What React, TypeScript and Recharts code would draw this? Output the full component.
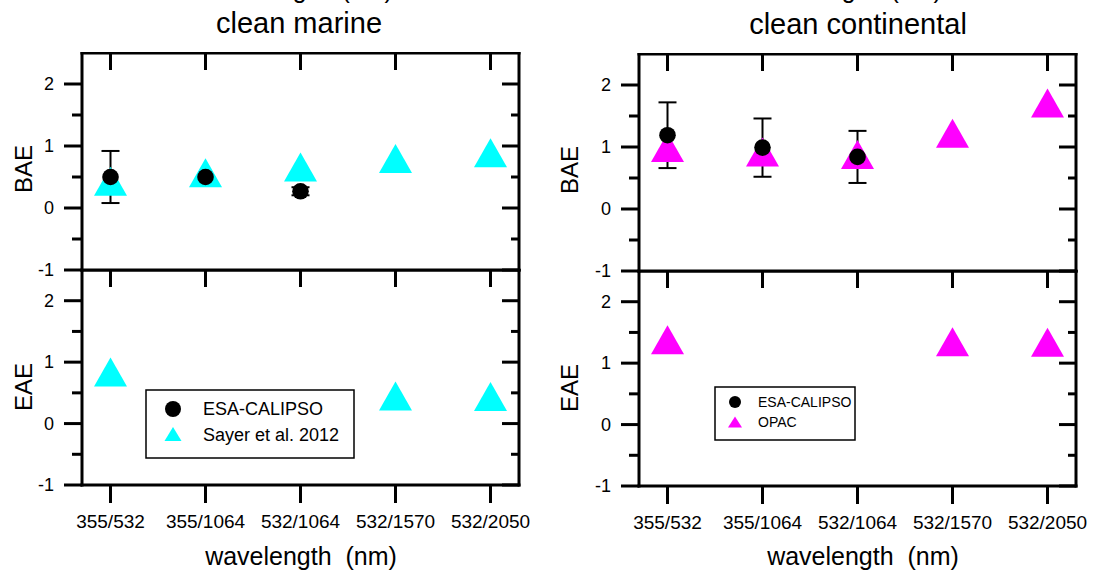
import React from 'react';
import { ScatterChart, Scatter, XAxis, YAxis, ErrorBar } from 'recharts';

const FONT = '"Liberation Sans", Arial, Helvetica, sans-serif';

const wavelengthPairs = ['355/532', '355/1064', '532/1064', '532/1570', '532/2050'];
const xTicks = [1, 2, 3, 4, 5];
const yTicks = [-1, -0.5, 0, 0.5, 1, 1.5, 2];

// clean marine
const marineBaeEsa = [0.5, 0.5, 0.27, null, null];
const marineBaeEsaErr = [0.42, 0, 0.065, null, null];
const marineBaeSayer = [0.43, 0.57, 0.66, 0.8, 0.89];
const marineEaeSayer = [0.84, null, null, 0.45, 0.44];

// clean continental
const contBaeEsa = [1.19, 0.99, 0.84, null, null];
const contBaeEsaErr = [0.53, 0.47, 0.42, null, null];
const contBaeOpac = [0.99, 0.92, 0.88, 1.22, 1.71];
const contEaeOpac = [1.38, null, null, 1.35, 1.34];

const CYAN = '#00ffff';
const MAGENTA = '#ff00ff';

type Pt = { x: number; y: number; err: number };

const toPoints = (vals: (number | null)[], errs?: (number | null)[]): Pt[] =>
  vals
    .map((v, i) => ({ x: i + 1, y: v as number, err: errs ? (errs[i] ?? 0) : 0 }))
    .filter((d) => d.y !== null);

const AXW = 60; // left axis width
const RW = 45; // right axis width (room for the last tick label)
const PLOT_W = 437;
const XAXIS_H = 60;
const MAJOR = 18;
const MINOR = 10;
const IN_MAJOR = 17;
const IN_MINOR = 8;
const axisLine = { stroke: '#000', strokeWidth: 3, strokeLinecap: 'square' as const };

const LeftTick = (p: any) => {
  const v = p.payload.value;
  const edge = p.x + MAJOR + 10;
  const major = Number.isInteger(v);
  return (
    <g>
      <line x1={edge} x2={edge - (major ? MAJOR : MINOR)} y1={p.y} y2={p.y} stroke="#000" strokeWidth={3} />
      {major && (
        <text x={p.x} y={p.y + 6.3} textAnchor="end" fontSize={18} fontFamily={FONT} fill="#000">
          {v}
        </text>
      )}
    </g>
  );
};

const RightTick = (p: any) => {
  const v = p.payload.value;
  const edge = p.x - MAJOR;
  const len = Number.isInteger(v) ? IN_MAJOR : IN_MINOR;
  return <line x1={edge} x2={edge - len} y1={p.y} y2={p.y} stroke="#000" strokeWidth={3} />;
};

const TopTick = (p: any) => {
  const edge = p.y + IN_MAJOR;
  return <line x1={p.x} x2={p.x} y1={edge} y2={edge + IN_MAJOR} stroke="#000" strokeWidth={3} />;
};

const makeTriangle = (color: string, w = 33, h = 29) => (p: any) =>
  (
    <polygon
      points={`${p.cx},${p.cy - h / 2} ${p.cx - w / 2},${p.cy + h / 2} ${p.cx + w / 2},${p.cy + h / 2}`}
      fill={color}
    />
  );

const Dot = (p: any) => <circle cx={p.cx} cy={p.cy} r={8.3} fill="#000" />;

type SubplotProps = {
  left: number;
  top: number;
  plotH: number;
  withLabels: boolean;
  tri: Pt[];
  triColor: string;
  dots?: Pt[];
};

function Subplot({ left, top, plotH, withLabels, tri, triColor, dots }: SubplotProps) {
  const bottomH = withLabels ? XAXIS_H : 12;
  const h = 1 + plotH + bottomH;
  return (
    <div style={{ position: 'absolute', left: left - AXW, top: top - 1 }}>
      <ScatterChart width={AXW + PLOT_W + RW} height={h} margin={{ top: 0, right: 0, bottom: 0, left: 0 }}>
        <XAxis
          xAxisId="b"
          type="number"
          dataKey="x"
          domain={[0.7, 5.3]}
          ticks={xTicks}
          interval={0}
          height={bottomH}
          axisLine={axisLine}
          tickLine={withLabels ? { stroke: '#000', strokeWidth: 3 } : false}
          tickSize={MAJOR}
          tickMargin={12}
          tick={withLabels ? { fontSize: 19, fill: '#000', fontFamily: FONT } : false}
          tickFormatter={(v: number) => wavelengthPairs[v - 1]}
          allowDataOverflow
        />
        <XAxis
          xAxisId="t"
          orientation="top"
          type="number"
          dataKey="x"
          domain={[0.7, 5.3]}
          ticks={xTicks}
          interval={0}
          height={1}
          axisLine={axisLine}
          tickLine={false}
          tickSize={IN_MAJOR}
          tickMargin={0}
          tick={TopTick}
          allowDataOverflow
        />
        <YAxis
          yAxisId="l"
          type="number"
          dataKey="y"
          domain={[-1, 2.5]}
          ticks={yTicks}
          interval={0}
          width={AXW}
          axisLine={axisLine}
          tickLine={false}
          tickSize={MAJOR}
          tickMargin={10}
          tick={LeftTick}
          allowDataOverflow
        />
        <YAxis
          yAxisId="r"
          orientation="right"
          type="number"
          dataKey="y"
          domain={[-1, 2.5]}
          ticks={yTicks}
          interval={0}
          width={RW}
          axisLine={axisLine}
          tickLine={false}
          tickSize={MAJOR}
          tickMargin={0}
          tick={RightTick}
          allowDataOverflow
        />
        <Scatter xAxisId="t" yAxisId="r" data={tri} shape={() => <g />} isAnimationActive={false} />
        <Scatter xAxisId="b" yAxisId="l" data={tri} shape={makeTriangle(triColor)} isAnimationActive={false} />
        {dots && (
          <Scatter xAxisId="b" yAxisId="l" data={dots} shape={Dot} isAnimationActive={false}>
            <ErrorBar dataKey="err" direction="y" width={9} stroke="#000" strokeWidth={2} isAnimationActive={false} />
          </Scatter>
        )}
      </ScatterChart>
    </div>
  );
}

const YLabel = ({ x, y, text }: { x: number; y: number; text: string }) => (
  <text transform={`translate(${x},${y}) rotate(-90)`} y={8.6} textAnchor="middle" fontSize={24} fontFamily={FONT} fill="#000">
    {text}
  </text>
);

export default function App() {
  const txt = { fontFamily: FONT, fill: '#000', style: { whiteSpace: 'pre' as const } };
  return (
    <div style={{ position: 'absolute', left: 0, top: 0, width: 1097, height: 574, overflow: 'hidden', background: '#fff' }}>
      <Subplot left={82} top={53} plotH={217} withLabels={false} tri={toPoints(marineBaeSayer)} triColor={CYAN} dots={toPoints(marineBaeEsa, marineBaeEsaErr)} />
      <Subplot left={82} top={270} plotH={215} withLabels tri={toPoints(marineEaeSayer)} triColor={CYAN} />
      <Subplot left={639} top={54} plotH={217} withLabels={false} tri={toPoints(contBaeOpac)} triColor={MAGENTA} dots={toPoints(contBaeEsa, contBaeEsaErr)} />
      <Subplot left={639} top={271} plotH={215} withLabels tri={toPoints(contEaeOpac)} triColor={MAGENTA} />

      <svg width={1097} height={574} style={{ position: 'absolute', left: 0, top: 0, pointerEvents: 'none' }}>
        <text x={297} y={-2} textAnchor="middle" fontSize={25} {...txt}>wavelength  (nm)</text>
        <text x={846} y={-2} textAnchor="middle" fontSize={25} {...txt}>wavelength  (nm)</text>
        <text x={299} y={33} textAnchor="middle" fontSize={29} {...txt}>clean marine</text>
        <text x={858} y={34} textAnchor="middle" fontSize={29} {...txt}>clean continental</text>

        <YLabel x={23} y={169} text="BAE" />
        <YLabel x={23} y={387} text="EAE" />
        <YLabel x={569} y={170} text="BAE" />
        <YLabel x={569} y={388} text="EAE" />

        <text x={301} y={565} textAnchor="middle" fontSize={25} {...txt}>wavelength  (nm)</text>
        <text x={863} y={565} textAnchor="middle" fontSize={25} {...txt}>wavelength  (nm)</text>

        {/* legend, clean marine */}
        <rect x={146} y={390} width={208} height={68} fill="#fff" stroke="#000" strokeWidth={1.5} />
        <circle cx={173} cy={409} r={8} fill="#000" />
        <polygon points="173,427 164.5,441 181.5,441" fill={CYAN} />
        <text x={203} y={415} fontSize={18} {...txt}>ESA-CALIPSO</text>
        <text x={203} y={441} fontSize={18} {...txt}>Sayer et al. 2012</text>

        {/* legend, clean continental */}
        <rect x={715} y={387} width={140} height={53} fill="#fff" stroke="#000" strokeWidth={1.5} />
        <circle cx={735} cy={402} r={6} fill="#000" />
        <polygon points="735,416.5 728,427.5 742,427.5" fill={MAGENTA} />
        <text x={758} y={407} fontSize={14} {...txt}>ESA-CALIPSO</text>
        <text x={758} y={427} fontSize={14} {...txt}>OPAC</text>
      </svg>
    </div>
  );
}
